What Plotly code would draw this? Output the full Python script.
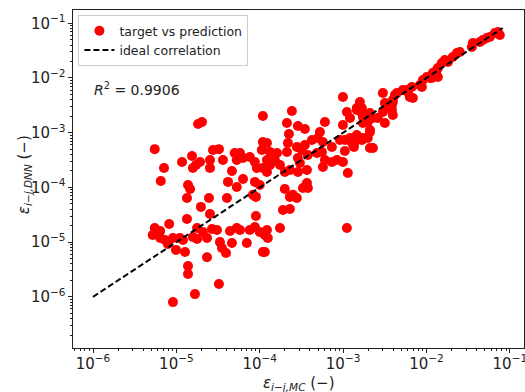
import plotly.graph_objects as go

# target (MC) values
target_mc = [
 1.34e-5, 2.46e-5, 4.04e-5, 9.0e-5, 1.97e-5, 1.34e-5, 2.53e-5, 9.0e-5, 5.5e-6, 8.2e-6,
 5.2e-6, 6.4e-6, 7.3e-6, 9.1e-6, 9.9e-6, 1.27e-5, 1.2e-5, 1.58e-5, 1.77e-5, 2.08e-5,
 2.33e-5, 3.07e-5, 3.33e-5, 3.52e-5, 3.94e-5, 4.4e-5, 4.64e-5, 5.8e-5, 7.0e-5, 8.75e-5,
 1.0e-4, 1.15e-4, 1.09e-4, 2.33e-5, 1.38e-5, 1.38e-5, 3.24e-5, 1.67e-5, 9.1e-6, 6.4e-6,
 7.9e-6, 1.1e-5, 5.85e-6, 1.77e-5, 2.67e-5, 7.6e-5, 5.3e-5,
 5.5e-6, 1.82e-5, 2.03e-5, 7.1e-6, 6.5e-6, 1.17e-5, 1.54e-5, 1.58e-5, 1.92e-5, 2.53e-5,
 2.53e-5, 2.75e-5, 3.24e-5, 3.62e-5, 4.64e-5, 5.0e-5, 5.8e-5, 6.3e-5, 7.6e-5, 8.75e-5,
 9.25e-5, 1.09e-4, 5.3e-5, 4.16e-5, 6.3e-5, 5.3e-5, 8.75e-5, 1.0e-4, 1.38e-5, 1.46e-5,
 1.09e-4, 1.09e-4, 1.06e-4, 1.22e-4, 1.22e-4, 8.3e-5, 1.72e-5,
 2.43e-4, 2.12e-4, 2.87e-4, 3.48e-4, 2.24e-4, 2.18e-4, 2.12e-4, 6.05e-4, 5.27e-4, 4.23e-4,
 4.99e-4, 5.73e-4, 9.95e-4, 1.11e-3, 1.05e-3, 1.38e-3, 1.73e-3, 2.1e-3, 2.1e-3, 2.28e-3,
 1.33e-4, 1.61e-4, 1.52e-4, 1.75e-4, 2.79e-4, 3.21e-4, 3.48e-4, 3.78e-4, 2.87e-4, 3.03e-4,
 4.85e-4, 5.57e-4, 6.05e-4, 7.34e-4, 8.43e-4, 9.95e-4, 1.05e-3, 7.34e-4, 1.14e-3, 5.73e-4,
 2.0e-4, 2.3e-4, 2.87e-4, 3.68e-4, 2.0e-4, 3.68e-4, 3.3e-4, 3.78e-4, 2.5e-4, 2.3e-4,
 2.79e-4, 1.9e-4, 2.3e-4, 1.75e-4, 1.22e-4, 1.25e-4, 1.15e-4, 1.11e-3, 1.22e-4, 1.33e-4,
 9.95e-4, 1.21e-3, 1.46e-3, 1.59e-3, 1.68e-3, 1.73e-3, 2.1e-3, 2.28e-3, 1.98e-3, 1.73e-3,
 3.0e-3, 3.17e-3, 3.44e-3, 3.85e-3, 3.95e-3, 4.42e-3, 3.17e-3, 3.95e-3, 5.98e-3, 6.68e-3,
 6.87e-3, 8.34e-3, 9.06e-3, 1.01e-2, 1.1e-2, 1.19e-2, 1.33e-2, 1.37e-2, 2.1e-3, 1.98e-3,
 1.46e-3, 1.21e-3, 4.18e-3, 3.95e-3, 5.82e-3, 6.32e-3, 8.81e-3, 1.53e-2, 1.66e-2, 1.81e-2,
 2.07e-2, 2.32e-2, 2.51e-2, 3.5e-2, 3.6e-2, 4.37e-2, 4.75e-2, 5.3e-2, 5.76e-2, 6.61e-2,
 7.18e-2, 7.59e-2, 1.16e-2, 1.37e-2, 5.21e-3, 2.61e-3, 3.0e-3, 3.85e-3, 1.46e-3, 1.68e-3,
 9.16e-4, 1.28e-3, 1.35e-3, 1.68e-3,
]

# predicted (DNN) values
prediction_dnn = [
 6.4e-5, 6.4e-5, 6.4e-5, 6.7e-5, 4.4e-5, 2.64e-5, 3.27e-5, 3.0e-5, 1.81e-5, 2.14e-5,
 1.35e-5, 1.6e-5, 1.09e-5, 1.19e-5, 7.2e-6, 6.6e-6, 1.09e-5, 1.24e-5, 1.81e-5, 1.53e-5,
 1.19e-5, 1.66e-5, 1.0e-5, 7.8e-6, 6.3e-6, 1.6e-5, 9.6e-6, 1.66e-5, 9.6e-6, 1.89e-5,
 1.53e-5, 1.35e-5, 6.6e-6, 5.3e-6, 3.66e-6, 2.61e-6, 1.71e-6, 1.12e-6, 8.0e-7, 1.19e-5,
 9.2e-6, 1.19e-5, 1.41e-5, 1.14e-5, 1.74e-5, 1.66e-5, 1.81e-5,
 5.0e-4, 1.44e-3, 1.57e-3, 2.26e-4, 1.31e-4, 2.91e-4, 3.75e-4, 2.26e-4, 2.91e-4, 3.17e-4,
 2.26e-4, 4.83e-4, 5.0e-4, 3.17e-4, 2.0e-4, 4.26e-4, 4.26e-4, 3.45e-4, 3.6e-4, 2.91e-4,
 2.26e-4, 2.26e-4, 3.17e-4, 1.26e-4, 1.42e-4, 1.02e-4, 1.26e-4, 1.11e-4, 1.11e-4, 9.35e-5,
 2.02e-3, 6.76e-4, 4.83e-4, 3.17e-4, 1.91e-4, 7.3e-5, 2.57e-4,
 2.49e-3, 1.5e-3, 1.33e-3, 1.17e-3, 9.46e-4, 6.48e-4, 4.44e-4, 1.57e-3, 1.03e-3, 7.36e-4,
 8.0e-4, 6.76e-4, 1.38e-3, 2.39e-3, 7.36e-4, 6.76e-4, 8.0e-4, 1.03e-3, 5.25e-4, 5.25e-4,
 4.44e-4, 4.26e-4, 3.17e-4, 2.57e-4, 5.48e-4, 4.83e-4, 5.96e-4, 3.91e-4, 3.45e-4, 2.79e-4,
 4.26e-4, 4.44e-4, 3.17e-4, 2.91e-4, 3.17e-4, 2.91e-4, 4.63e-4, 5.48e-4, 1.83e-4, 2.36e-4,
 1.91e-4, 2.08e-4, 1.91e-4, 2.08e-4, 9.35e-5, 1.2e-4, 9.75e-5, 9.75e-5, 7.3e-5, 6.7e-5,
 6.4e-5, 3.86e-5, 4.03e-5, 1.81e-5, 1.66e-5, 1.19e-5, 6.6e-6, 1.81e-5, 6.48e-4, 2.57e-4,
 4.5e-3, 1.86e-3, 2.6e-3, 3.64e-3, 2.83e-3, 1.94e-3, 2.29e-3, 1.86e-3, 1.57e-3, 1.5e-3,
 5.32e-3, 3.49e-3, 2.95e-3, 2.6e-3, 3.96e-3, 5.32e-3, 1.5e-3, 2.11e-3, 5.55e-3, 6.84e-3,
 4.31e-3, 7.45e-3, 9.19e-3, 1.04e-2, 1.0e-2, 1.23e-2, 1.4e-2, 1.52e-2, 1.12e-3, 8.0e-4,
 9.07e-4, 8.0e-4, 4.89e-3, 3.64e-3, 6.04e-3, 4.5e-3, 6.84e-3, 1.88e-2, 2.13e-2, 1.96e-2,
 2.42e-2, 2.86e-2, 2.99e-2, 3.69e-2, 4.37e-2, 4.55e-2, 4.95e-2, 5.39e-2, 5.62e-2, 6.65e-2,
 6.93e-2, 6.11e-2, 1.0e-2, 1.04e-2, 6.04e-3, 1.86e-3, 2.39e-3, 3.21e-3, 2.83e-3, 2.29e-3,
 7.36e-4, 6.48e-4, 5.48e-4, 7.36e-4,
]

ideal_line = [1e-6, 8.2e-2]
r2_text = "0.9906"
x_title = "<i>ε</i><sub><i>i−j,MC</i></sub> (−)"
y_title = "<i>ε</i><sub><i>i−j,DNN</i></sub> (−)"

FONT = "DejaVu Sans"
INK = "#222222"

fig = go.Figure()
fig.add_trace(go.Scatter(
    x=target_mc, y=prediction_dnn, mode="markers",
    name="target vs prediction",
    marker=dict(color="#ff0000", size=10, line=dict(width=0)),
))
fig.add_trace(go.Scatter(
    x=ideal_line, y=ideal_line, mode="lines",
    name="ideal correlation",
    line=dict(color="black", width=2, dash="6px,3px"),
))

axis_common = dict(
    type="log", showgrid=False, zeroline=False, showline=True, linecolor=INK,
    linewidth=1.2, mirror=True, ticks="outside", ticklen=4, tickwidth=1, tickcolor=INK,
    dtick=1, exponentformat="power", showexponent="all", automargin=False,
    ticklabeloverflow="allow",
    tickfont=dict(family=FONT, size=12, color=INK),
    minor=dict(ticks="outside", ticklen=2, tickcolor=INK, showgrid=False, dtick="D1"),
)

fig.update_xaxes(**axis_common, range=[-6.24, -0.83], ticklabelstandoff=-2)
fig.update_yaxes(**axis_common, range=[-6.936, -0.757], ticklabelstandoff=0)

fig.add_annotation(
    xref="paper", yref="paper", x=0.042, y=0.766, xanchor="left", yanchor="middle",
    text="<i>R</i><sup>2</sup> = " + r2_text, showarrow=False,
    font=dict(family=FONT, size=14, color=INK),
)
fig.add_annotation(
    xref="paper", yref="paper", x=0.501, y=-0.104, xanchor="center", yanchor="middle",
    text=x_title, showarrow=False, font=dict(family=FONT, size=15, color=INK),
)
fig.add_annotation(
    xref="paper", yref="paper", x=-0.106, y=0.512, xanchor="center", yanchor="middle",
    text=y_title, showarrow=False, textangle=-90, font=dict(family=FONT, size=15, color=INK),
)

fig.update_layout(
    width=525, height=392,
    margin=dict(l=73, r=1, t=10, b=44, autoexpand=False),
    plot_bgcolor="white", paper_bgcolor="white",
    font=dict(family=FONT, color=INK),
    legend=dict(
        x=0.012, y=0.985, xanchor="left", yanchor="top",
        bgcolor="rgba(255,255,255,0.9)", bordercolor="#cccccc", borderwidth=1,
        font=dict(family=FONT, size=12.5, color=INK), tracegroupgap=0,
    ),
    showlegend=True,
)

fig.write_html(
    "out.html",
    config={"displayModeBar": False},
    post_script="document.body.style.margin='0';document.body.style.overflow='hidden';",
)
